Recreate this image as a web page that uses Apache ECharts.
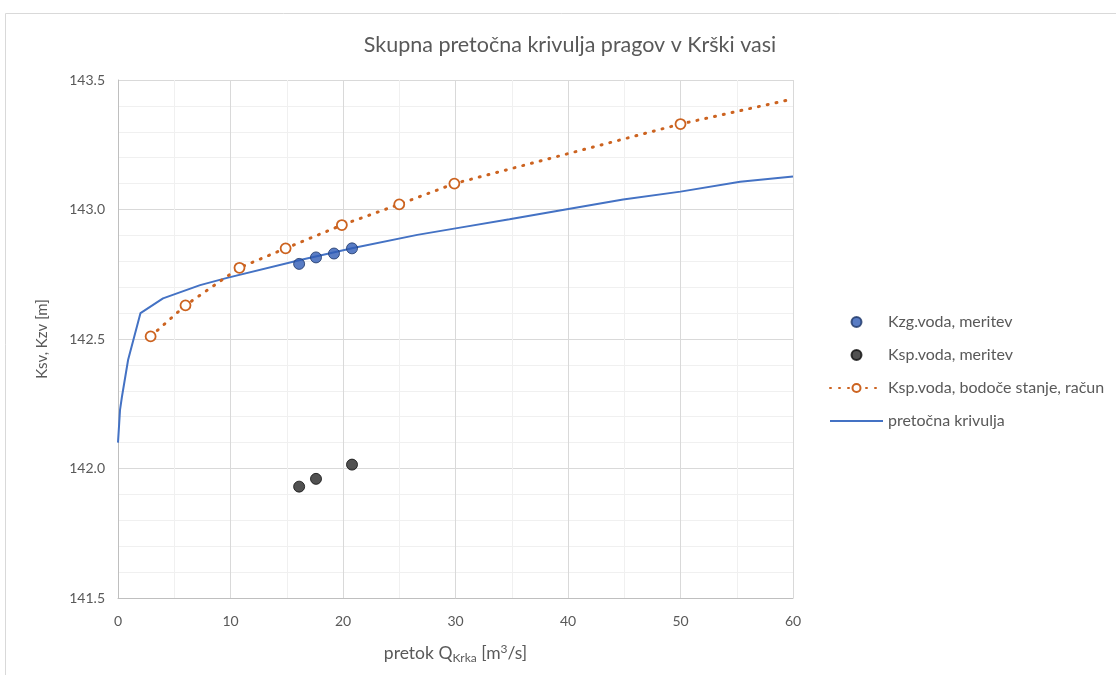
<!DOCTYPE html>
<html>
<head>
<meta charset="utf-8">
<script src="https://cdn.jsdelivr.net/npm/echarts@6/dist/echarts.min.js"></script>
<style>
  html, body { margin: 0; padding: 0; background: #fff; }
  #chart { width: 1116px; height: 675px; }
</style>
</head>
<body>
<div id="chart"></div>
<script>
// podatki
// Kzg.voda, meritev
let kzgQ = [16.1, 17.6, 19.2, 20.8]
let kzgH = [142.79, 142.815, 142.83, 142.85]
// Ksp.voda, meritev
let kspQ = [16.1, 17.6, 20.8]
let kspH = [141.93, 141.96, 142.015]
// Ksp.voda, bodoče stanje, račun
let racQ = [2.9, 6, 10.8, 14.9, 19.9, 25, 29.9, 50, 60]
let racH = [142.51, 142.63, 142.775, 142.85, 142.94, 143.02, 143.1, 143.33, 143.427]
// pretočna krivulja
let krivQ = [0, 0.18, 0.35, 0.9, 2, 4, 7.3, 9.7, 16.2, 20.9, 26.6, 30.4, 34.8, 39.9, 44.9, 50, 55.3, 60]
let krivH = [142.1, 142.226, 142.277, 142.42, 142.6, 142.657, 142.708, 142.736, 142.805, 142.851, 142.902, 142.93, 142.962, 143.001, 143.039, 143.069, 143.107, 143.127]

let xTicks = [0, 10, 20, 30, 40, 50, 60]
let yTicks = [141.5, 142.0, 142.5, 143.0, 143.5]

function pari(xs, ys) {
    return xs.map(function (x, i) { return [x, ys[i]] })
}

(function () {
    let myChart = echarts.init(document.getElementById('chart'))
    let font = 'Lato'
    let siva = '#595959'
    // zadnja točka računa je brez markerja (rob grafa)
    let racData = pari(racQ, racH).map(function (p, i) {
        return i === racQ.length - 1 ? { value: p, symbol: 'none' } : p
    })
    let option = {
        animation: false,
        textStyle: { fontFamily: font },
        title: {
            text: 'Skupna pretočna krivulja pragov v Krški vasi',
            left: 565,
            textAlign: 'center',
            top: 29,
            textStyle: { color: siva, fontSize: 21.5, fontWeight: 'normal', fontFamily: font }
        },
        // okvir grafa
        graphic: [{
            type: 'rect',
            shape: { x: 5.5, y: 13.5, width: 1200, height: 700 },
            style: { fill: 'none', stroke: '#d9d9d9', lineWidth: 1 },
            silent: true
        }],
        grid: {
            left: 118,
            right: 323,
            top: 80,
            bottom: 77
        },
        legend: {
            orient: 'vertical',
            left: 829,
            top: 314,
            padding: 0,
            itemWidth: 53,
            itemHeight: 10,
            itemGap: 17,
            textStyle: { color: siva, fontSize: 16, fontFamily: font },
            data: [
                'Kzg.voda, meritev',
                'Ksp.voda, meritev',
                'Ksp.voda, bodoče stanje, račun',
                { name: 'pretočna krivulja', itemStyle: { opacity: 0 } }
            ]
        },
        xAxis: {
            type: 'value',
            min: xTicks[0],
            max: xTicks[xTicks.length - 1],
            interval: 10,
            name: 'pretok Q{sub|Krka} [m{sup|3}/s]',
            nameLocation: 'middle',
            nameGap: 45,
            nameTextStyle: {
                color: siva,
                fontSize: 17.5,
                fontFamily: font,
                rich: {
                    sub: { fontSize: 12, verticalAlign: 'bottom', padding: [9, 0, 0, 0], color: siva, fontFamily: font },
                    sup: { fontSize: 12, verticalAlign: 'top', padding: [0, 0, 7, 0], color: siva, fontFamily: font }
                }
            },
            axisLine: { show: true, lineStyle: { color: '#bfbfbf' } },
            axisTick: { show: false },
            axisLabel: { color: siva, fontSize: 14, margin: 16 },
            splitLine: { lineStyle: { color: '#d9d9d9' } },
            minorTick: { show: false, splitNumber: 2 },
            minorSplitLine: { show: true, lineStyle: { color: '#f0f0f0' } }
        },
        yAxis: {
            type: 'value',
            min: yTicks[0],
            max: yTicks[yTicks.length - 1],
            interval: 0.5,
            name: 'Ksv, Kzv [m]',
            nameLocation: 'middle',
            nameGap: 68,
            nameTextStyle: { color: siva, fontSize: 15, fontFamily: font },
            axisLine: { show: true, lineStyle: { color: '#bfbfbf' } },
            axisTick: { show: false },
            axisLabel: {
                color: siva,
                fontSize: 14,
                margin: 13,
                formatter: function (v) { return v.toFixed(1) }
            },
            splitLine: { lineStyle: { color: '#d9d9d9' } },
            minorTick: { show: false, splitNumber: 5 },
            minorSplitLine: { show: true, lineStyle: { color: '#f0f0f0' } }
        },
        series: [
            {
                name: 'pretočna krivulja',
                type: 'line',
                data: pari(krivQ, krivH),
                showSymbol: false,
                symbol: 'none',
                itemStyle: { color: '#4472c4' },
                lineStyle: { color: '#4472c4', width: 2 },
                z: 2
            },
            {
                name: 'Ksp.voda, bodoče stanje, račun',
                type: 'line',
                data: racData,
                symbol: 'circle',
                symbolSize: 10,
                itemStyle: { color: '#fff', borderColor: '#cc6320', borderWidth: 1.8 },
                lineStyle: { color: '#cc6320', width: 3, type: [1, 8], cap: 'round' },
                z: 3
            },
            {
                name: 'Kzg.voda, meritev',
                type: 'scatter',
                data: pari(kzgQ, kzgH),
                symbolSize: 11,
                itemStyle: { color: '#2f5bb5', borderColor: '#1c3566', borderWidth: 1 },
                z: 4
            },
            {
                name: 'Ksp.voda, meritev',
                type: 'scatter',
                data: pari(kspQ, kspH),
                symbolSize: 11,
                itemStyle: { color: '#262626', borderColor: '#0d0d0d', borderWidth: 1 },
                z: 4
            }
        ]
    }
    myChart.setOption(option)
})();
</script>
</body>
</html>
